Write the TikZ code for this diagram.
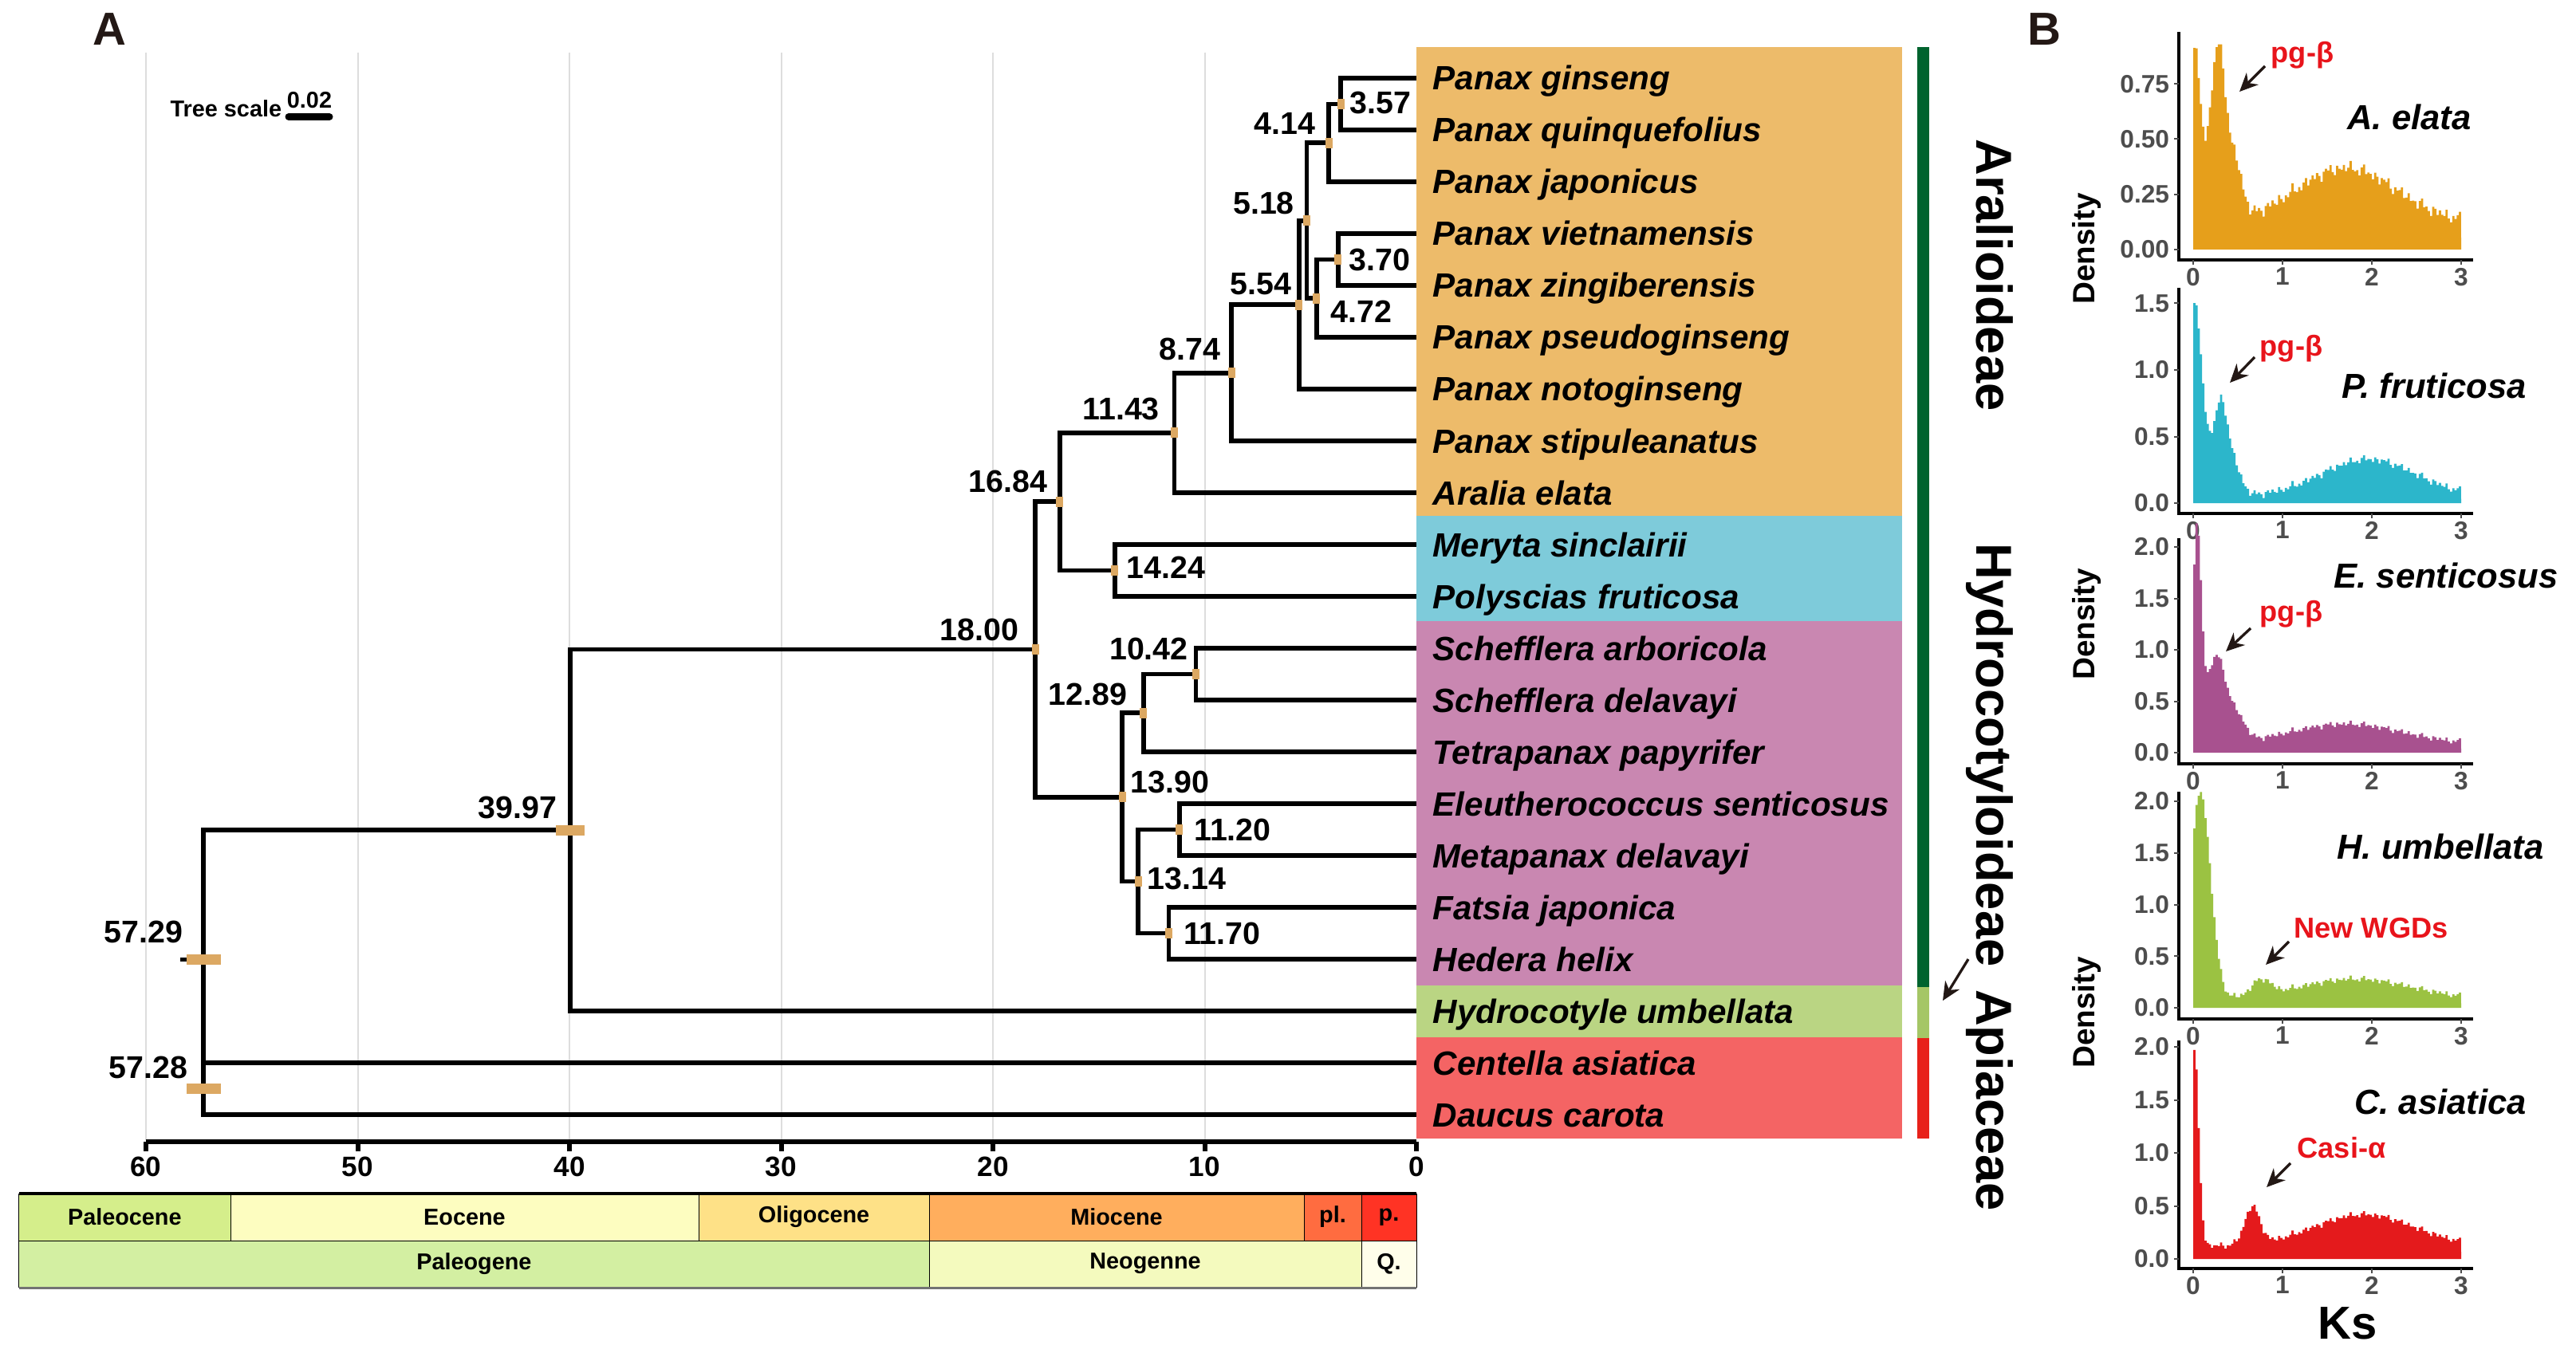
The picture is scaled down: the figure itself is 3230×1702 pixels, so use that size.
\documentclass[tikz,border=0pt]{standalone}
\usepackage{fontspec}
\setmainfont{Liberation Sans}
\usetikzlibrary{arrows.meta}

\definecolor{ciTan}{HTML}{DCA862}
\definecolor{gridGray}{HTML}{DDDDDD}
\definecolor{boxOrange}{HTML}{EDBB6A}
\definecolor{boxCyan}{HTML}{7ECBDA}
\definecolor{boxPink}{HTML}{C987B1}
\definecolor{boxGreen}{HTML}{BAD583}
\definecolor{boxRed}{HTML}{F46464}
\definecolor{barDark}{HTML}{00632E}
\definecolor{barLight}{HTML}{A5C666}
\definecolor{barRed}{HTML}{E8211A}
\definecolor{geoPaleocene}{HTML}{D5EE8B}
\definecolor{geoEocene}{HTML}{FDFDC0}
\definecolor{geoOligocene}{HTML}{FEE187}
\definecolor{geoMiocene}{HTML}{FFAE5D}
\definecolor{geoPlio}{HTML}{FF6C40}
\definecolor{geoPleisto}{HTML}{FF3324}
\definecolor{geoPaleogene}{HTML}{D3EFA2}
\definecolor{geoNeogene}{HTML}{F4FABE}
\definecolor{geoQuat}{HTML}{FFFEEA}
\definecolor{histA}{HTML}{E69F1B}
\definecolor{histP}{HTML}{2CB6CB}
\definecolor{histE}{HTML}{A8518F}
\definecolor{histH}{HTML}{9BC242}
\definecolor{histC}{HTML}{E41A1C}
\definecolor{wgdRed}{HTML}{E8141B}
\definecolor{inkDark}{HTML}{231815}
\definecolor{tickGray}{HTML}{4D4D4D}

\newcommand\agefont{\fontsize{11.2}{13}\selectfont\bfseries}
\newcommand\taxonfont{\fontsize{12}{14}\selectfont\bfseries\itshape}
\newcommand\smallfont{\fontsize{8.2}{10}\selectfont\bfseries}
\newcommand\ticklabfont{\fontsize{9}{11}\selectfont\bfseries}

\begin{document}
\begin{tikzpicture}[x=0.1mm, y=-0.1mm,
    declare function={
      gs(\kx,\km,\kw)=exp(-min(20,(\kx-\km)*(\kx-\km)/(\kw*\kw)));
      nz(\kx)=0.018*sin(4999*\kx)+0.012*sin(2711*\kx)+0.008*sin(1733*\kx);
      ksa(\kx)=0.12+0.25*gs(\kx,1.7,0.8)+0.78*gs(\kx,0,0.1)+0.8*gs(\kx,0.27,0.13)+0.2*gs(\kx,0.48,0.1)+nz(\kx);
      ksp(\kx)=0.05+0.28*gs(\kx,1.95,0.75)+1.45*gs(\kx,0,0.13)+0.72*gs(\kx,0.3,0.12)+0.15*gs(\kx,0.48,0.1)+nz(\kx);
      kse(\kx)=0.08+0.2*gs(\kx,1.7,0.9)+2.0*gs(\kx,0.03,0.07)+0.85*gs(\kx,0.25,0.16)+0.2*gs(\kx,0.5,0.12)+nz(\kx);
      ksh(\kx)=0.08+0.2*gs(\kx,1.8,0.9)+2.0*gs(\kx,0.07,0.16)+0.15*gs(\kx,0.75,0.15)+nz(\kx);
      ksc(\kx)=0.12+0.3*gs(\kx,1.9,0.8)+1.85*gs(\kx,0,0.07)+0.35*gs(\kx,0.65,0.12)+nz(\kx);
    }]
    \tikzset{branch/.style = {line width=0.58mm}}
    \tikzset{ci/.style = {fill=ciTan, inner sep=0, minimum width=0.9mm, minimum height=1.3mm}}
    \tikzset{agel/.style = {anchor=south east, inner sep=0, font=\agefont}}
    \tikzset{ager/.style = {anchor=west, inner sep=0, font=\agefont}}
    \tikzset{taxon/.style = {anchor=base west, inner sep=0, font=\taxonfont}}
    \tikzset{gridline/.style = {gridGray, line width=0.2mm}}
    \tikzset{timeaxis/.style = {line width=0.6mm}}
    \tikzset{geobox/.style = {draw=black, line width=0.1mm}}
    \tikzset{geotext/.style = {inner sep=0, font=\smallfont}}
    \tikzset{cladelab/.style = {anchor=base, rotate=-90, inner sep=0, font=\fontsize{18}{20}\selectfont\bfseries}}
    \tikzset{callout/.style = {inkDark, line width=0.33mm, -{Stealth[length=2.3mm, width=2.1mm]}}}
    \tikzset{kaxis/.style = {line width=0.45mm}}
    \tikzset{kstick/.style = {tickGray, line width=0.2mm}}
    \tikzset{kslabx/.style = {anchor=north, inner sep=0, yshift=-0.3mm, text=tickGray, font=\ticklabfont}}
    \tikzset{kslaby/.style = {anchor=east, inner sep=0, xshift=-0.5mm, text=tickGray, font=\ticklabfont}}
    \tikzset{htitle/.style = {inner sep=0, font=\fontsize{12.4}{14}\selectfont\bfseries\itshape}}
    \tikzset{wgd/.style = {inner sep=0, text=wgdRed, font=\fontsize{10.3}{12}\selectfont\bfseries}}
    \tikzset{dens/.style = {inner sep=0, rotate=90, font=\fontsize{11}{13}\selectfont\bfseries}}
    \useasboundingbox (0,0) rectangle (3230,1702);

    % panel letters and tree scale
    \node[inner sep=0, text=inkDark, font=\fontsize{16.5}{18}\selectfont\bfseries] (pA) at (137,37) {A};
    \node[inner sep=0, text=inkDark, font=\fontsize{16.5}{18}\selectfont\bfseries] (pB) at (2563,37) {B};
    \node[anchor=base west, inner sep=0, font=\smallfont] (tslab) at (213,147) {Tree scale};
    \node[anchor=base, inner sep=0, font=\smallfont] (tsval) at (388,136) {0.02};
    \coordinate (tsa) at (362,146.5);
    \coordinate (tsb) at (413,146.5);
    \draw[line width=0.9mm, line cap=round] (tsa) -- (tsb);

    % grid and time axis
    \foreach \i in {0,...,5}
        \draw[gridline] ({183+265.5*\i},66) -- ({183+265.5*\i},1430);
    \draw[timeaxis] (183,1432) -- (1776,1432);
    \foreach \t [count=\i from 0] in {60,50,...,0}
        \draw[timeaxis] ({183+265.5*\i},1432) -- ({183+265.5*\i},1444)
            node[anchor=north, inner sep=0, yshift=-0.4mm, font=\fontsize{10}{12}\selectfont\bfseries] (ax\i) {\t};

    % geological time scale
    \foreach \a/\b/\c/\n [count=\i] in {23.7/289/geoPaleocene/Paleocene, 289/876/geoEocene/Eocene,
        876/1165/geoOligocene/Oligocene, 1165/1635/geoMiocene/Miocene, 1635/1707/geoPlio/pl., 1707/1776/geoPleisto/p.}
    {
        \draw[geobox, fill=\c] (\a,1497) rectangle (\b,1556);
        \node[geotext] (ep\i) at ({(\a+\b)/2},1526.5) {\n};
    }
    \foreach \a/\b/\c/\n [count=\i] in {23.7/1165/geoPaleogene/Paleogene, 1165/1707/geoNeogene/Neogenne, 1707/1776/geoQuat/Q.}
    {
        \draw[geobox, fill=\c] (\a,1556) rectangle (\b,1614);
        \node[geotext] (pe\i) at ({(\a+\b)/2},1585) {\n};
    }
    \draw[line width=0.35mm] (23.7,1497) -- (1776,1497);
    \draw[black!55, line width=0.3mm] (23.7,1615) -- (1776,1615);

    % clade boxes and side bar
    \fill[boxOrange] (1776,59) rectangle (2385,647);
    \fill[boxCyan] (1776,647) rectangle (2385,779);
    \fill[boxPink] (1776,779) rectangle (2385,1236);
    \fill[boxGreen] (1776,1236) rectangle (2385,1301);
    \fill[boxRed] (1776,1301) rectangle (2385,1428);
    \fill[barDark] (2404,59) rectangle (2419,1238);
    \fill[barLight] (2404,1238) rectangle (2419,1302);
    \fill[barRed] (2404,1302) rectangle (2419,1428);
    \node[cladelab] (cAra) at (2478,345) {Aralioideae};
    \node[cladelab] (cHyd) at (2478,947) {Hydrocotyloideae};
    \node[cladelab] (cApi) at (2478,1380) {Apiaceae};
    \coordinate (apS) at (2468,1203);
    \coordinate (apE) at (2436,1255);
    \draw[callout] (apS) -- (apE);

    % tips
    \foreach \sp [count=\i from 0] in {Panax ginseng, Panax quinquefolius, Panax japonicus,
        Panax vietnamensis, Panax zingiberensis, Panax pseudoginseng, Panax notoginseng,
        Panax stipuleanatus, Aralia elata, Meryta sinclairii, Polyscias fruticosa,
        Schefflera arboricola, Schefflera delavayi, Tetrapanax papyrifer,
        Eleutherococcus senticosus, Metapanax delavayi, Fatsia japonica, Hedera helix,
        Hydrocotyle umbellata, Centella asiatica, Daucus carota}
    {
        \coordinate (t\i) at (1776,{98+65*\i});
        \node[taxon] (sp\i) at (1796,{113+65*\i}) {\sp};
    }

    % internal nodes
    \coordinate (n357) at (1681.2,130.5);
    \coordinate (n414) at (1666.1,179.3);
    \coordinate (n370) at (1677.8,325.5);
    \coordinate (n472) at (1650.7,374.3);
    \coordinate (n518) at (1638.5,276.8);
    \coordinate (n554) at (1628.9,382.4);
    \coordinate (n874) at (1544.0,467.7);
    \coordinate (n1143) at (1472.5,542.8);
    \coordinate (n1424) at (1397.9,715.5);
    \coordinate (n1684) at (1328.9,629.2);
    \coordinate (n1042) at (1499.4,845.5);
    \coordinate (n1289) at (1433.8,894.3);
    \coordinate (n1120) at (1478.6,1040.5);
    \coordinate (n1170) at (1465.4,1170.5);
    \coordinate (n1314) at (1427.1,1105.5);
    \coordinate (n1390) at (1407.0,999.9);
    \coordinate (n1800) at (1298.1,814.5);
    \coordinate (n3997) at (714.8,1041.3);
    \coordinate (n5728) at (255,1365.5);
    \coordinate (n5729) at (255,1203.4);
    \coordinate (rootstub) at (226,1203.4);

    % branches
    \draw[branch] (t0) -| (n357) |- (t1);
    \draw[branch] (n357) -| (n414) |- (t2);
    \draw[branch] (t3) -| (n370) |- (t4);
    \draw[branch] (n370) -| (n472) |- (t5);
    \draw[branch] (n414) -| (n518) |- (n472);
    \draw[branch] (n518) -| (n554) |- (t6);
    \draw[branch] (n554) -| (n874) |- (t7);
    \draw[branch] (n874) -| (n1143) |- (t8);
    \draw[branch] (t9) -| (n1424) |- (t10);
    \draw[branch] (n1143) -| (n1684) |- (n1424);
    \draw[branch] (t11) -| (n1042) |- (t12);
    \draw[branch] (n1042) -| (n1289) |- (t13);
    \draw[branch] (t14) -| (n1120) |- (t15);
    \draw[branch] (t16) -| (n1170) |- (t17);
    \draw[branch] (n1120) -| (n1314) |- (n1170);
    \draw[branch] (n1289) -| (n1390) |- (n1314);
    \draw[branch] (n1684) -| (n1800) |- (n1390);
    \draw[branch] (n1800) -| (n3997) |- (t18);
    \draw[branch] (t19) -| (n5728) |- (t20);
    \draw[branch] (n3997) -| (n5729) |- (n5728);
    \draw[branch] (rootstub) -- (n5729);

    % age intervals
    \foreach \n in {n357,n414,n370,n472,n518,n554,n874,n1143,n1424,n1684,n1042,n1289,n1120,n1170,n1314,n1390,n1800}
        \node[ci] (ci\n) at (\n) {};
    \node[ci, minimum width=3.6mm] (cin3997) at (n3997) {};
    \node[ci, minimum width=4.3mm] (cin5729) at (n5729) {};
    \node[ci, minimum width=4.3mm] (cin5728) at (n5728) {};

    % ages
    \node[ager, xshift=1.1mm, yshift=0.15mm] (l357) at (n357) {3.57};
    \node[agel, xshift=-1.6mm, yshift=1.0mm] (l414) at (n414) {4.14};
    \node[ager, xshift=1.3mm] (l370) at (n370) {3.70};
    \node[ager, xshift=1.7mm, yshift=-1.6mm] (l472) at (n472) {4.72};
    \node[agel, xshift=-1.5mm, yshift=0.7mm] (l518) at (n518) {5.18};
    \node[agel, xshift=-0.9mm, yshift=1.2mm] (l554) at (n554) {5.54};
    \node[agel, xshift=-1.3mm, yshift=1.5mm] (l874) at (n874) {8.74};
    \node[agel, xshift=-1.8mm, yshift=1.5mm] (l1143) at (n1143) {11.43};
    \node[ager, xshift=1.4mm, yshift=0.4mm] (l1424) at (n1424) {14.24};
    \node[agel, xshift=-1.5mm, yshift=1.1mm] (l1684) at (n1684) {16.84};
    \node[agel, xshift=-0.9mm, yshift=1.7mm] (l1042) at (n1042) {10.42};
    \node[agel, xshift=-2.0mm, yshift=0.9mm] (l1289) at (n1289) {12.89};
    \node[ager, xshift=1.8mm] (l1120) at (n1120) {11.20};
    \node[ager, xshift=1.8mm] (l1170) at (n1170) {11.70};
    \node[ager, xshift=1.1mm, yshift=0.35mm] (l1314) at (n1314) {13.14};
    \node[ager, xshift=1.0mm, yshift=1.9mm] (l1390) at (n1390) {13.90};
    \node[agel, xshift=-2.0mm, yshift=1.0mm] (l1800) at (n1800) {18.00};
    \node[agel, xshift=-1.6mm, yshift=1.4mm] (l3997) at (n3997) {39.97};
    \node[agel, xshift=-2.5mm, yshift=2.0mm] (l5729) at (n5729) {57.29};
    \node[agel, xshift=-1.9mm, yshift=1.2mm] (l5728) at (n5728) {57.28};

    % Ks panel: A. elata
    \begin{scope}[shift={(2750,313)}, x=11.2mm, y=27.7mm]
        \fill[histA] (0,0) -- plot[const plot mark left, domain=0:3, samples=121] (\x,{ksa(\x)}) -- (3,0) -- cycle;
    \end{scope}
    \draw[kaxis] (2732,40) -- (2732,326) -- (3101,326);
    \foreach \k in {0,...,3}
        \draw[kstick] ({2750+112*\k},326) -- ({2750+112*\k},332) node[kslabx] (xa\k) {\k};
    \foreach \v/\lab [count=\i] in {313/0.00, 243.75/0.25, 174.5/0.50, 105.25/0.75}
        \draw[kstick] (2732,\v) -- (2726,\v) node[kslaby] (ya\i) {\lab};
    \node[htitle] (tA) at (3021,147) {A. elata};
    \node[wgd] (wA) at (2887,69) {pg-β};
    \coordinate (aA1) at (2840,83);
    \coordinate (aA2) at (2808,115);
    \draw[callout] (aA1) -- (aA2);
    \node[dens] (dA) at (2616,312) {Density};

    % Ks panel: P. fruticosa
    \begin{scope}[shift={(2750,631)}, x=11.2mm, y=16.7mm]
        \fill[histP] (0,0) -- plot[const plot mark left, domain=0:3, samples=121] (\x,{ksp(\x)}) -- (3,0) -- cycle;
    \end{scope}
    \draw[kaxis] (2732,361) -- (2732,644) -- (3101,644);
    \foreach \k in {0,...,3}
        \draw[kstick] ({2750+112*\k},644) -- ({2750+112*\k},650) node[kslabx] (xp\k) {\k};
    \foreach \v/\lab [count=\i] in {631/0.0, 547.5/0.5, 464/1.0, 380.5/1.5}
        \draw[kstick] (2732,\v) -- (2726,\v) node[kslaby] (yp\i) {\lab};
    \node[htitle] (tP) at (3052,484) {P. fruticosa};
    \node[wgd] (wP) at (2873,437) {pg-β};
    \coordinate (aP1) at (2827,448);
    \coordinate (aP2) at (2796,480);
    \draw[callout] (aP1) -- (aP2);

    % Ks panel: E. senticosus
    \begin{scope}[shift={(2750,944)}, x=11.2mm, y=12.9mm]
        \fill[histE] (0,0) -- plot[const plot mark left, domain=0:3, samples=121] (\x,{kse(\x)}) -- (3,0) -- cycle;
    \end{scope}
    \draw[kaxis] (2732,675) -- (2732,958) -- (3101,958);
    \foreach \k in {0,...,3}
        \draw[kstick] ({2750+112*\k},958) -- ({2750+112*\k},964) node[kslabx] (xe\k) {\k};
    \foreach \v/\lab [count=\i] in {944/0.0, 879.5/0.5, 815/1.0, 750.5/1.5, 686/2.0}
        \draw[kstick] (2732,\v) -- (2726,\v) node[kslaby] (ye\i) {\lab};
    \node[htitle] (tE) at (3067,722) {E. senticosus};
    \node[wgd] (wE) at (2873,770) {pg-β};
    \coordinate (aE1) at (2822,788);
    \coordinate (aE2) at (2791,817);
    \draw[callout] (aE1) -- (aE2);
    \node[dens] (dE) at (2616,783) {Density};

    % Ks panel: H. umbellata
    \begin{scope}[shift={(2750,1264)}, x=11.2mm, y=12.95mm]
        \fill[histH] (0,0) -- plot[const plot mark left, domain=0:3, samples=121] (\x,{ksh(\x)}) -- (3,0) -- cycle;
    \end{scope}
    \draw[kaxis] (2732,993) -- (2732,1278) -- (3101,1278);
    \foreach \k in {0,...,3}
        \draw[kstick] ({2750+112*\k},1278) -- ({2750+112*\k},1284) node[kslabx] (xh\k) {\k};
    \foreach \v/\lab [count=\i] in {1264/0.0, 1199.25/0.5, 1134.5/1.0, 1069.75/1.5, 1005/2.0}
        \draw[kstick] (2732,\v) -- (2726,\v) node[kslaby] (yh\i) {\lab};
    \node[htitle] (tH) at (3060,1062) {H. umbellata};
    \node[wgd] (wH) at (2973,1164) {New WGDs};
    \coordinate (aH1) at (2870,1181);
    \coordinate (aH2) at (2841,1210);
    \draw[callout] (aH1) -- (aH2);
    \node[dens] (dH) at (2616,1270) {Density};

    % Ks panel: C. asiatica
    \begin{scope}[shift={(2750,1579)}, x=11.2mm, y=13.3mm]
        \fill[histC] (0,0) -- plot[const plot mark left, domain=0:3, samples=121] (\x,{ksc(\x)}) -- (3,0) -- cycle;
    \end{scope}
    \draw[kaxis] (2732,1305) -- (2732,1591) -- (3101,1591);
    \foreach \k in {0,...,3}
        \draw[kstick] ({2750+112*\k},1591) -- ({2750+112*\k},1597) node[kslabx] (xc\k) {\k};
    \foreach \v/\lab [count=\i] in {1579/0.0, 1512.5/0.5, 1446/1.0, 1379.5/1.5, 1313/2.0}
        \draw[kstick] (2732,\v) -- (2726,\v) node[kslaby] (yc\i) {\lab};
    \node[htitle] (tC) at (3060,1382) {C. asiatica};
    \node[wgd] (wC) at (2936,1440) {Casi-α};
    \coordinate (aC1) at (2872,1459);
    \coordinate (aC2) at (2842,1489);
    \draw[callout] (aC1) -- (aC2);
    \node[inner sep=0, font=\fontsize{16.5}{18}\selectfont\bfseries] (ks) at (2944,1660) {Ks};
\end{tikzpicture}
\end{document}
